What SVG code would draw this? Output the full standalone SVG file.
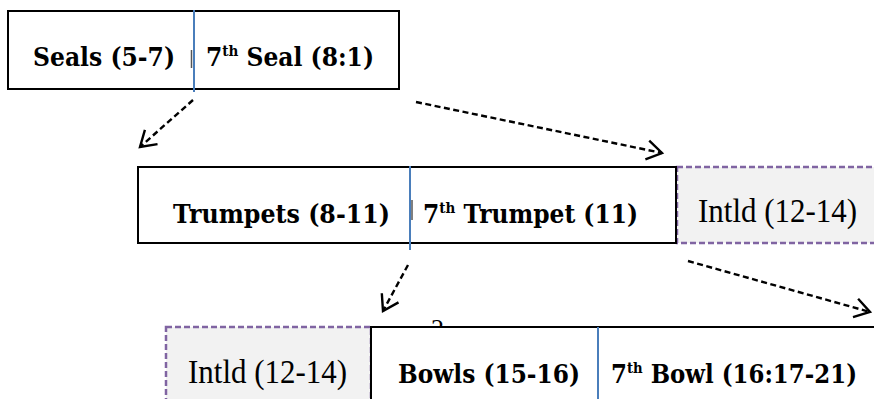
<svg xmlns="http://www.w3.org/2000/svg" width="874" height="399" viewBox="0 0 874 399">
  <style>
    .box { fill: #ffffff; stroke: #000000; stroke-width: 2; }
    .intld { fill: #f2f2f2; stroke: #8064a2; stroke-width: 2.5; stroke-dasharray: 6 3; }
    .divider { stroke: #4a7ebb; stroke-width: 2; }
    .tick { stroke: #555555; stroke-width: 1.5; }
    .bold { font-family: "DejaVu Serif", "Liberation Serif", serif; font-weight: bold; font-size: 26px; fill: #000000; }
    .plain { font-family: "Liberation Serif", "DejaVu Serif", serif; font-size: 33px; fill: #000000; }
    .sup { font-size: 15px; }
    .link { fill: none; stroke: #000000; stroke-width: 2.4; stroke-dasharray: 6 3.5; }
  </style>
  <defs>
    <marker id="openArrow" markerUnits="userSpaceOnUse" markerWidth="24" markerHeight="24" viewBox="-20 -12 24 24" refX="0" refY="0" orient="auto" overflow="visible">
      <path d="M-15,-9.5 L0,0 L-15,9.5" fill="none" stroke="#000000" stroke-width="2.4" stroke-linejoin="miter"/>
    </marker>
  </defs>

  <rect width="874" height="399" fill="#ffffff"/>

  <!-- Seals -->
  <g id="seals">
    <rect class="box" x="8" y="11" width="391" height="78"/>
    <line class="divider" x1="194" y1="10" x2="194" y2="92"/>
    <line class="tick" x1="191.5" y1="50" x2="191.5" y2="68"/>
    <text class="bold" x="33" y="66" textLength="142" lengthAdjust="spacingAndGlyphs">Seals (5-7)</text>
    <text class="bold" x="206" y="66" textLength="168" lengthAdjust="spacingAndGlyphs">7<tspan class="sup" dy="-10">th</tspan><tspan dy="10"> Seal (8:1)</tspan></text>
  </g>

  <!-- Trumpets with interlude -->
  <g id="trumpets-intld">
    <rect class="intld" x="677" y="167" width="210" height="76"/>
    <text class="plain" x="698" y="222" textLength="159" lengthAdjust="spacingAndGlyphs">Intld (12-14)</text>
  </g>
  <g id="trumpets">
    <rect class="box" x="138" y="167" width="538" height="76"/>
    <line class="divider" x1="410" y1="166" x2="410" y2="250"/>
    <line class="tick" x1="412" y1="200" x2="412" y2="220"/>
    <text class="bold" x="173" y="223" textLength="217" lengthAdjust="spacingAndGlyphs">Trumpets (8-11)</text>
    <text class="bold" x="423" y="223" textLength="215" lengthAdjust="spacingAndGlyphs">7<tspan class="sup" dy="-10">th</tspan><tspan dy="10"> Trumpet (11)</tspan></text>
  </g>

  <!-- Bowls with interlude -->
  <g id="bowls-intld">
    <rect class="intld" x="166" y="327" width="205" height="90"/>
    <text class="plain" x="188" y="383" textLength="159" lengthAdjust="spacingAndGlyphs">Intld (12-14)</text>
  </g>
  <g id="bowls">
    <text font-family="Liberation Serif, serif" font-size="26" x="431" y="337">2</text>
    <rect class="box" x="371" y="327" width="520" height="90"/>
    <line class="divider" x1="598" y1="327" x2="598" y2="399"/>
    <text class="bold" x="398" y="383" textLength="182" lengthAdjust="spacingAndGlyphs">Bowls (15-16)</text>
    <text class="bold" x="611" y="383" textLength="246" lengthAdjust="spacingAndGlyphs">7<tspan class="sup" dy="-10">th</tspan><tspan dy="10"> Bowl (16:17-21)</tspan></text>
  </g>

  <!-- Connectors -->
  <g id="connectors">
    <line class="link" x1="193" y1="100" x2="140" y2="147" marker-end="url(#openArrow)"/>
    <line class="link" x1="416" y1="102" x2="662" y2="153" marker-end="url(#openArrow)"/>
    <line class="link" x1="408" y1="265" x2="383" y2="311" marker-end="url(#openArrow)"/>
    <line class="link" x1="688" y1="261" x2="870" y2="312" marker-end="url(#openArrow)"/>
  </g>
</svg>
